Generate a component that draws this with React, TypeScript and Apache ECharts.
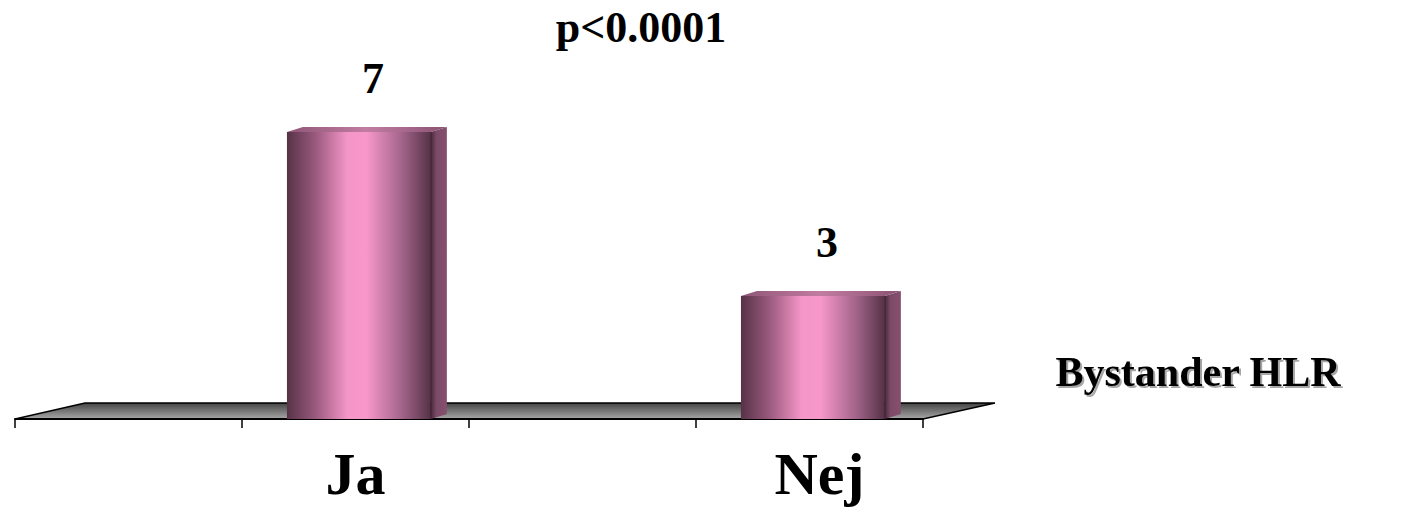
import React, { useEffect, useRef } from "react";
import * as echarts from "echarts";

// Category slots along the floor (empty slots keep the spacing between bars)
const categories: string[] = ["", "Ja", "", "Nej"];
// Values per slot
const values: (number | null)[] = [null, 7, null, 3];
const titleText = "p<0.0001";
const axisNameText = "Bystander HLR";

const SERIF = '"Liberation Serif", "Times New Roman", serif';

export default function App() {
  const ref = useRef<HTMLDivElement>(null);

  useEffect(() => {
    if (!ref.current) return;
    const chart = echarts.init(ref.current, undefined, { renderer: "svg" });

    const barData = values
      .map((v, i) => (v == null ? null : [i, v]))
      .filter((d) => d !== null) as number[][];

    const frontFill = new echarts.graphic.LinearGradient(0, 0, 1, 0, [
      { offset: 0, color: "#573247" },
      { offset: 0.2, color: "#9a5a7e" },
      { offset: 0.42, color: "#f596c8" },
      { offset: 0.55, color: "#f898ca" },
      { offset: 0.8, color: "#a2648a" },
      { offset: 1, color: "#553246" },
    ]);
    const sideFill = new echarts.graphic.LinearGradient(0, 0, 1, 0, [
      { offset: 0, color: "#4a2a3d" },
      { offset: 0.35, color: "#7b4a66" },
      { offset: 1, color: "#86506e" },
    ]);
    const topFill = new echarts.graphic.LinearGradient(0, 0, 1, 0, [
      { offset: 0, color: "#8e5576" },
      { offset: 0.5, color: "#c27ca2" },
      { offset: 1, color: "#8a5272" },
    ]);
    const floorFill = new echarts.graphic.LinearGradient(0, 0, 0, 1, [
      { offset: 0, color: "#444444" },
      { offset: 1, color: "#a8a8a8" },
    ]);

    chart.setOption({
      animation: false,
      backgroundColor: "#ffffff",
      grid: { left: 15, right: 479, top: 91, bottom: 91, containLabel: false },
      xAxis: {
        type: "category",
        data: categories,
        boundaryGap: true,
        axisLine: { show: true, lineStyle: { color: "#000", width: 2 } },
        axisTick: {
          show: true,
          interval: 0,
          alignWithLabel: false,
          length: 9,
          lineStyle: { color: "#000", width: 1.5 },
        },
        axisLabel: {
          interval: 0,
          hideOverlap: false,
          margin: 25,
          color: "#000",
          fontFamily: SERIF,
          fontWeight: "bold",
          fontSize: 60,
          formatter: (v: string) => (v === "Nej" ? "{n|Nej}" : v),
          rich: {
            n: {
              color: "#000",
              fontFamily: SERIF,
              fontWeight: "bold",
              fontSize: 60,
              padding: [0, 0, 0, 20],
            },
          },
        },
        splitLine: { show: false },
        z: 5,
      },
      yAxis: { type: "value", min: 0, max: 8, show: false },
      graphic: [
        {
          type: "text",
          x: 641,
          y: 27,
          style: {
            text: titleText,
            fill: "#000",
            font: `bold 44px ${SERIF}`,
            align: "center",
            verticalAlign: "middle",
          },
        },
        {
          type: "text",
          x: 1198,
          y: 372,
          style: {
            text: axisNameText,
            fill: "#000",
            font: `bold 42px ${SERIF}`,
            align: "center",
            verticalAlign: "middle",
            textShadowColor: "rgba(0,0,0,0.35)",
            textShadowOffsetX: 2,
            textShadowOffsetY: 2,
            textShadowBlur: 1,
          },
        },
      ],
      series: [
        {
          // gray perspective floor under the bars
          type: "custom",
          z: 1,
          data: [[0, 0]],
          renderItem: (params: any) => {
            const cs = params.coordSys;
            const x0 = cs.x;
            const x1 = cs.x + cs.width;
            const y0 = cs.y + cs.height;
            return {
              type: "polygon",
              shape: {
                points: [
                  [x0, y0],
                  [x0 + 70, y0 - 16],
                  [x1 + 72, y0 - 16],
                  [x1, y0],
                ],
              },
              style: { fill: floorFill, stroke: "#000", lineWidth: 1.5 },
            };
          },
        },
        {
          // 3D-style bars with value labels
          type: "custom",
          z: 10,
          data: barData,
          renderItem: (params: any, api: any) => {
            const idx = api.value(0);
            const v = api.value(1);
            const base = api.coord([idx, 0]);
            const top = api.coord([idx, v]);
            const band = api.size([1, 0])[0];
            const left = base[0] - band * 0.302;
            const w = band * 0.634;
            const right = left + w;
            const dx = 16;
            const dy = -5;
            const yTop = top[1];
            const yBase = base[1];
            return {
              type: "group",
              children: [
                {
                  type: "polygon",
                  shape: {
                    points: [
                      [right, yTop],
                      [right + dx, yTop + dy],
                      [right + dx, yBase + dy],
                      [right, yBase],
                    ],
                  },
                  style: { fill: sideFill },
                },
                {
                  type: "polygon",
                  shape: {
                    points: [
                      [left, yTop],
                      [left + dx, yTop + dy],
                      [right + dx, yTop + dy],
                      [right, yTop],
                    ],
                  },
                  style: { fill: topFill },
                },
                {
                  type: "rect",
                  shape: { x: left, y: yTop, width: w, height: yBase - yTop },
                  style: { fill: frontFill },
                },
                {
                  type: "line",
                  shape: { x1: right, y1: yTop, x2: right, y2: yBase },
                  style: { stroke: "#3a2030", lineWidth: 1 },
                },
                {
                  type: "text",
                  x: left + (w + dx) / 2 + 6,
                  y: yTop - 54,
                  style: {
                    text: String(v),
                    fill: "#000",
                    font: `bold 44px ${SERIF}`,
                    align: "center",
                    verticalAlign: "middle",
                  },
                },
              ],
            };
          },
        },
      ],
    });

    return () => chart.dispose();
  }, []);

  return (
    <div
      ref={ref}
      style={{ position: "fixed", left: 0, top: 0, width: 1402, height: 510, background: "#fff" }}
    />
  );
}
